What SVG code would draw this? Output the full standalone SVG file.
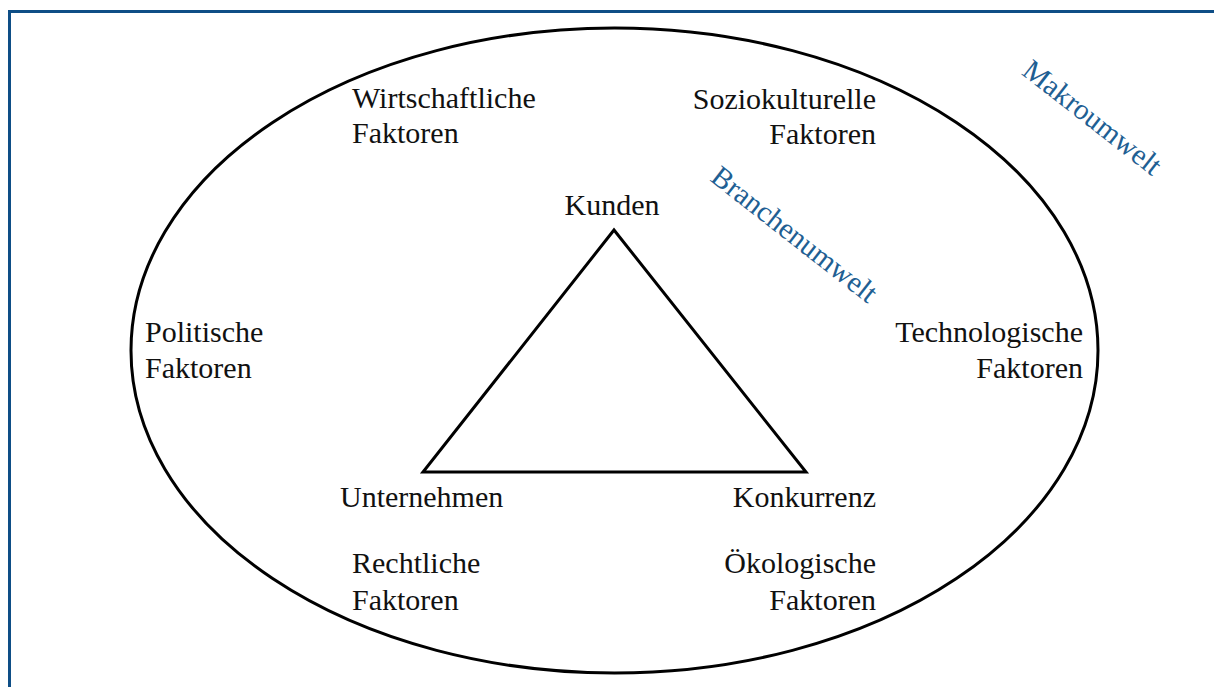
<svg xmlns="http://www.w3.org/2000/svg" width="1214" height="687" viewBox="0 0 1214 687">
  <style>
    .lbl { font-family: "Liberation Serif", "Times New Roman", serif; font-size: 30px; fill: #111111; }
    .env { font-family: "Liberation Serif", "Times New Roman", serif; font-size: 29.5px; fill: #1f5f93; }
    .line { fill: none; stroke: #000000; stroke-width: 3; }
  </style>
  <rect x="0" y="0" width="1214" height="687" fill="#ffffff"/>
  <rect id="frame" x="9.5" y="11.5" width="1220" height="700" fill="none" stroke="#0e4e86" stroke-width="3"/>

  <g id="macro-environment">
    <ellipse class="line" cx="614.5" cy="350.5" rx="483.5" ry="322.5"/>
  </g>

  <g id="connectors">
    <polygon class="line" points="614,230 423,472 806,472" stroke-linejoin="miter"/>
  </g>

  <g id="kunden"><text class="lbl" x="612" y="215" text-anchor="middle">Kunden</text></g>
  <g id="unternehmen"><text class="lbl" x="340" y="507">Unternehmen</text></g>
  <g id="konkurrenz"><text class="lbl" x="876" y="507" text-anchor="end">Konkurrenz</text></g>

  <g id="wirtschaftliche">
    <text class="lbl" x="352" y="108">Wirtschaftliche</text>
    <text class="lbl" x="352" y="143">Faktoren</text>
  </g>
  <g id="soziokulturelle">
    <text class="lbl" x="876" y="109" text-anchor="end">Soziokulturelle</text>
    <text class="lbl" x="876" y="144" text-anchor="end">Faktoren</text>
  </g>
  <g id="politische">
    <text class="lbl" x="145" y="342">Politische</text>
    <text class="lbl" x="145" y="378">Faktoren</text>
  </g>
  <g id="technologische">
    <text class="lbl" x="1083" y="342" text-anchor="end">Technologische</text>
    <text class="lbl" x="1083" y="378" text-anchor="end">Faktoren</text>
  </g>
  <g id="rechtliche">
    <text class="lbl" x="352" y="573">Rechtliche</text>
    <text class="lbl" x="352" y="610">Faktoren</text>
  </g>
  <g id="oekologische">
    <text class="lbl" x="876" y="573" text-anchor="end">Ökologische</text>
    <text class="lbl" x="876" y="610" text-anchor="end">Faktoren</text>
  </g>

  <g id="makroumwelt" transform="translate(1092,118) rotate(38)">
    <text class="env" x="0" y="9" text-anchor="middle">Makroumwelt</text>
  </g>
  <g id="branchenumwelt" transform="translate(794,235) rotate(38)">
    <text class="env" x="0" y="9" text-anchor="middle">Branchenumwelt</text>
  </g>
</svg>
